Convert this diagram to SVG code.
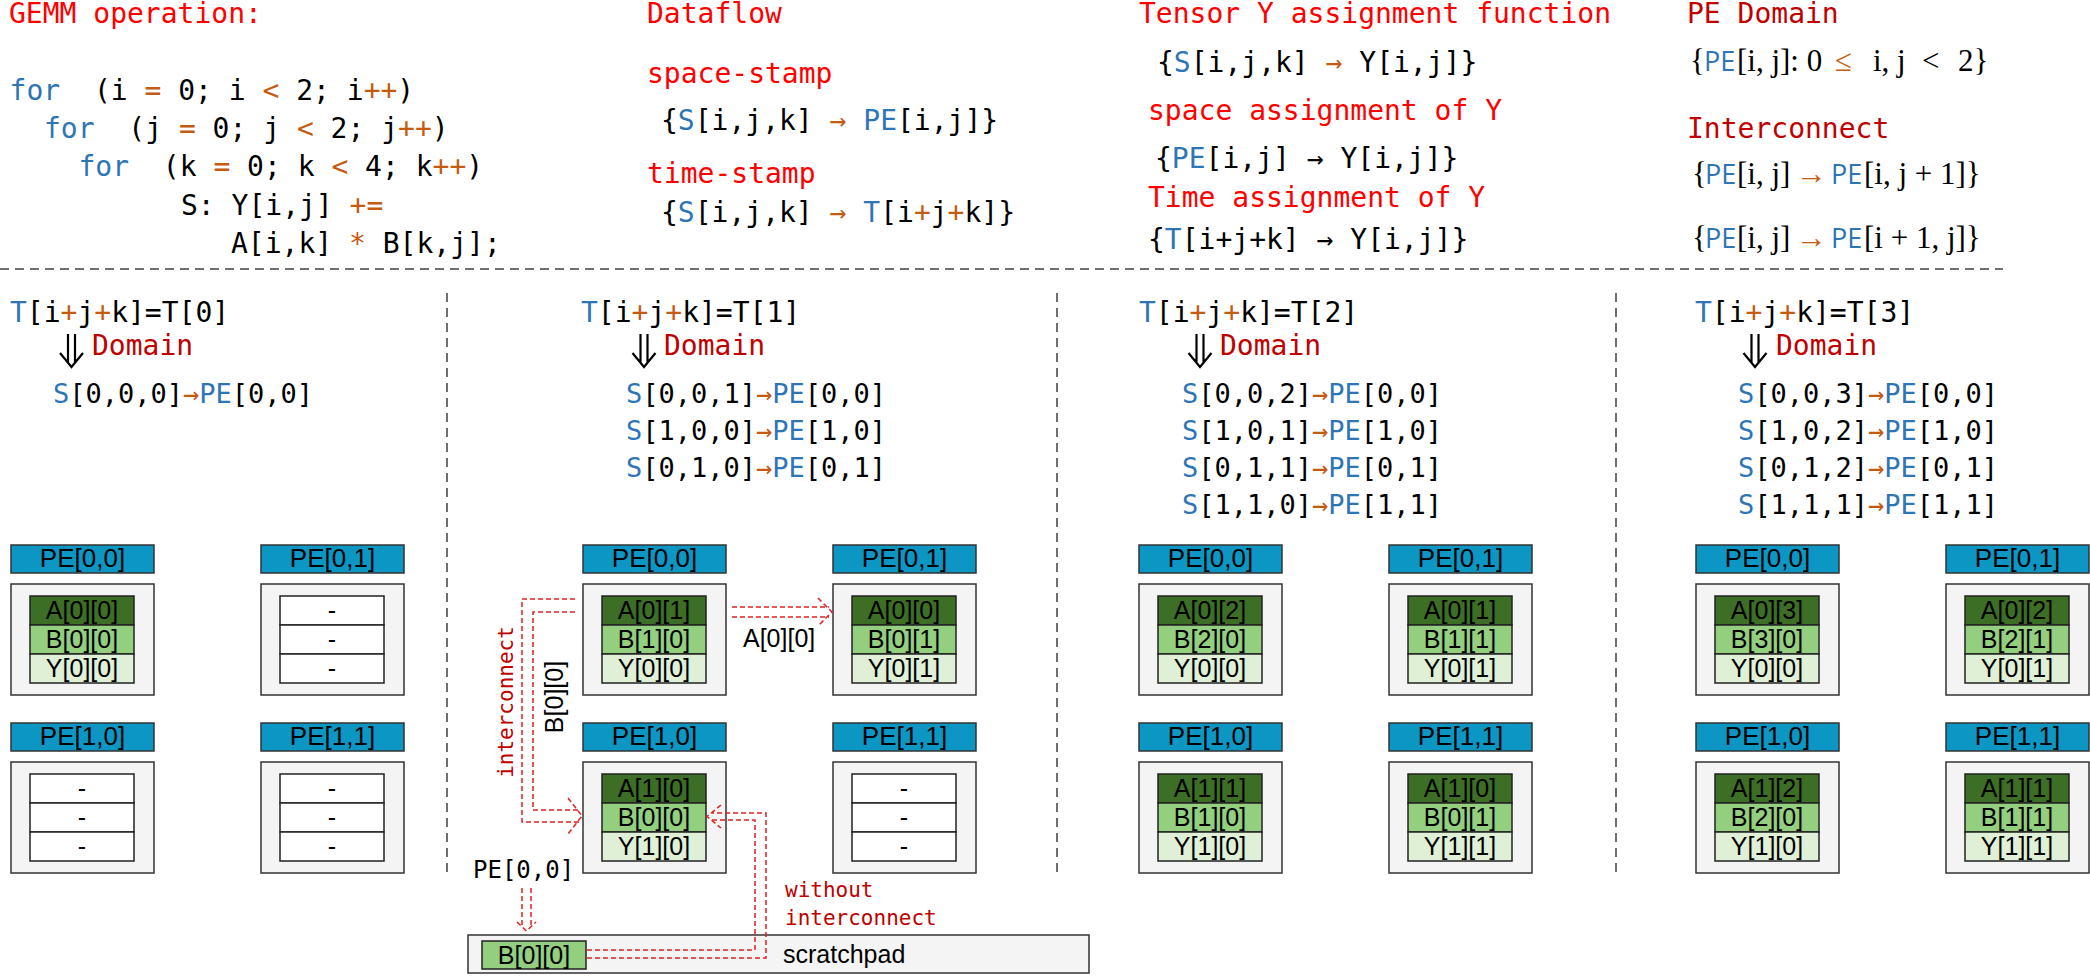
<svg xmlns="http://www.w3.org/2000/svg" width="2090" height="976" viewBox="0 0 2090 976">
<defs>
<style>
text { font-family: "DejaVu Sans Mono", monospace; fill: #000; }
.m { font-size: 28px; }
.s { font-size: 27px; }
.r { fill: #FF0000; }
.dr { fill: #C00000; }
.b { fill: #2E75B6; }
.o { fill: #C55A11; }
.math { font-family: "Liberation Serif", "DejaVu Serif", serif; font-size: 31px; }
.mpe { font-family: "Open Sans", "Liberation Sans", sans-serif; font-size: 27px; fill: #2E75B6; }
.sep { stroke: #404040; stroke-width: 1.5; stroke-dasharray: 9 6; fill: none; }
.hdr { fill: #0B96C4; stroke: #333; stroke-width: 1.5; }
.body { fill: #F4F4F4; stroke: #333; stroke-width: 1.5; }
.ra { fill: #3D6E25; stroke: #222; stroke-width: 1.5; }
.rb { fill: #93CF7E; stroke: #222; stroke-width: 1.5; }
.ry { fill: #DFF0D7; stroke: #222; stroke-width: 1.5; }
.re { fill: #FFFFFF; stroke: #222; stroke-width: 1.5; }
.lbl { font-family: "Liberation Sans", Arial, sans-serif; font-size: 26px; text-anchor: middle; }
.cell { font-family: "Liberation Sans", Arial, sans-serif; font-size: 25px; text-anchor: middle; }
.sans { font-family: "Liberation Sans", Arial, sans-serif; font-size: 25px; }
.dash { stroke: #E02020; stroke-width: 1.5; stroke-dasharray: 5 3; fill: none; }
.da { stroke: #000; stroke-width: 2.2; fill: none; }
.lab { font-size: 21px; }
</style>
<g id="dbl"><path class="da" d="M-3.5,0 V28 M3.5,0 V28 M-11.5,19 L0,33 L11.5,19"/></g>
<g id="frame"><rect class="hdr" x="0" y="0" width="143" height="28"/><rect class="body" x="0" y="39" width="143" height="111"/></g>
<g id="tfull"><rect class="ra" x="19" y="51" width="104" height="29"/><rect class="rb" x="19" y="80" width="104" height="29"/><rect class="ry" x="19" y="109" width="104" height="29"/></g>
<g id="tempty"><rect class="re" x="19" y="51" width="104" height="29"/><rect class="re" x="19" y="80" width="104" height="29"/><rect class="re" x="19" y="109" width="104" height="29"/><text class="cell" x="71" y="74">-</text><text class="cell" x="71" y="103">-</text><text class="cell" x="71" y="132">-</text></g>
</defs>
<rect x="0" y="0" width="2090" height="976" fill="#FFFFFF"/>

<!-- Top section -->
<g id="gemm">
<text class="m r" x="9" y="23">GEMM operation:</text>
<text class="m" x="9.6" y="100" xml:space="preserve"><tspan class="b">for</tspan>  (i <tspan class="o">=</tspan> 0; i <tspan class="o">&lt;</tspan> 2; i<tspan class="o">++</tspan>)</text>
<text class="m" x="44" y="138" xml:space="preserve"><tspan class="b">for</tspan>  (j <tspan class="o">=</tspan> 0; j <tspan class="o">&lt;</tspan> 2; j<tspan class="o">++</tspan>)</text>
<text class="m" x="78.5" y="176" xml:space="preserve"><tspan class="b">for</tspan>  (k <tspan class="o">=</tspan> 0; k <tspan class="o">&lt;</tspan> 4; k<tspan class="o">++</tspan>)</text>
<text class="m" x="181" y="215" xml:space="preserve">S: Y[i,j] <tspan class="o">+=</tspan></text>
<text class="m" x="231" y="253" xml:space="preserve">A[i,k] <tspan class="o">*</tspan> B[k,j];</text>
</g>
<g id="dataflow">
<text class="m r" x="647" y="23">Dataflow</text>
<text class="m r" x="647" y="83">space-stamp</text>
<text class="m" x="661" y="130" xml:space="preserve">{<tspan class="b">S</tspan>[i,j,k] <tspan class="o">→</tspan> <tspan class="b">PE</tspan>[i,j]}</text>
<text class="m r" x="647" y="183">time-stamp</text>
<text class="m" x="661" y="222" xml:space="preserve">{<tspan class="b">S</tspan>[i,j,k] <tspan class="o">→</tspan> <tspan class="b">T</tspan>[i<tspan class="o">+</tspan>j<tspan class="o">+</tspan>k]}</text>
</g>
<g id="tensor">
<text class="m r" x="1139" y="23">Tensor Y assignment function</text>
<text class="m" x="1157" y="72" xml:space="preserve">{<tspan class="b">S</tspan>[i,j,k] <tspan class="o">→</tspan> Y[i,j]}</text>
<text class="m r" x="1148" y="120">space assignment of Y</text>
<text class="m" x="1155" y="168" xml:space="preserve">{<tspan class="b">PE</tspan>[i,j] → Y[i,j]}</text>
<text class="m r" x="1148" y="207">Time assignment of Y</text>
<text class="m" x="1148" y="249" xml:space="preserve">{<tspan class="b">T</tspan>[i+j+k] → Y[i,j]}</text>
</g>
<g id="pedomain">
<text class="m dr" x="1687" y="23">PE Domain</text>
<text class="math" x="1690" y="71">{</text><text class="mpe" x="1704" y="71">PE</text><text class="math" x="1737" y="71" xml:space="preserve">[i, j]: 0</text><text class="math o" x="1835" y="71">≤</text><text class="math" x="1873" y="71">i, j</text><text class="math" x="1922" y="71">&lt;</text><text class="math" x="1958" y="71">2}</text>
<text class="m dr" x="1687" y="138">Interconnect</text>
<text class="math" x="1692" y="184">{</text><text class="mpe" x="1705" y="184">PE</text><text class="math" x="1737" y="184">[i, j]</text><text class="math o" x="1796" y="184">→</text><text class="mpe" x="1831" y="184">PE</text><text class="math" x="1864" y="184" xml:space="preserve">[i, j + 1]}</text>
<text class="math" x="1692" y="248">{</text><text class="mpe" x="1705" y="248">PE</text><text class="math" x="1737" y="248">[i, j]</text><text class="math o" x="1796" y="248">→</text><text class="mpe" x="1831" y="248">PE</text><text class="math" x="1864" y="248" xml:space="preserve">[i + 1, j]}</text>
</g>

<!-- separators -->
<g id="separators">
<path class="sep" d="M0,269 H2003"/>
<path class="sep" d="M447,293 V873"/>
<path class="sep" d="M1057,293 V873"/>
<path class="sep" d="M1616,293 V873"/>
</g>

<!-- Step headers -->
<g id="step0">
<text class="m" x="10" y="322"><tspan class="b">T</tspan>[i<tspan class="o">+</tspan>j<tspan class="o">+</tspan>k]=T[0]</text>
<use href="#dbl" x="71.5" y="334"/>
<text class="m dr" x="92" y="355">Domain</text>
<text class="s" x="53" y="403"><tspan class="b">S</tspan>[0,0,0]<tspan class="o">→</tspan><tspan class="b">PE</tspan>[0,0]</text>
</g>
<g id="step1">
<text class="m" x="581" y="322"><tspan class="b">T</tspan>[i<tspan class="o">+</tspan>j<tspan class="o">+</tspan>k]=T[1]</text>
<use href="#dbl" x="644" y="334"/>
<text class="m dr" x="664" y="355">Domain</text>
<text class="s" x="626" y="403"><tspan class="b">S</tspan>[0,0,1]<tspan class="o">→</tspan><tspan class="b">PE</tspan>[0,0]</text>
<text class="s" x="626" y="440"><tspan class="b">S</tspan>[1,0,0]<tspan class="o">→</tspan><tspan class="b">PE</tspan>[1,0]</text>
<text class="s" x="626" y="477"><tspan class="b">S</tspan>[0,1,0]<tspan class="o">→</tspan><tspan class="b">PE</tspan>[0,1]</text>
</g>
<g id="step2">
<text class="m" x="1139" y="322"><tspan class="b">T</tspan>[i<tspan class="o">+</tspan>j<tspan class="o">+</tspan>k]=T[2]</text>
<use href="#dbl" x="1200" y="334"/>
<text class="m dr" x="1220" y="355">Domain</text>
<text class="s" x="1182" y="403"><tspan class="b">S</tspan>[0,0,2]<tspan class="o">→</tspan><tspan class="b">PE</tspan>[0,0]</text>
<text class="s" x="1182" y="440"><tspan class="b">S</tspan>[1,0,1]<tspan class="o">→</tspan><tspan class="b">PE</tspan>[1,0]</text>
<text class="s" x="1182" y="477"><tspan class="b">S</tspan>[0,1,1]<tspan class="o">→</tspan><tspan class="b">PE</tspan>[0,1]</text>
<text class="s" x="1182" y="514"><tspan class="b">S</tspan>[1,1,0]<tspan class="o">→</tspan><tspan class="b">PE</tspan>[1,1]</text>
</g>
<g id="step3">
<text class="m" x="1695" y="322"><tspan class="b">T</tspan>[i<tspan class="o">+</tspan>j<tspan class="o">+</tspan>k]=T[3]</text>
<use href="#dbl" x="1755" y="334"/>
<text class="m dr" x="1776" y="355">Domain</text>
<text class="s" x="1738" y="403"><tspan class="b">S</tspan>[0,0,3]<tspan class="o">→</tspan><tspan class="b">PE</tspan>[0,0]</text>
<text class="s" x="1738" y="440"><tspan class="b">S</tspan>[1,0,2]<tspan class="o">→</tspan><tspan class="b">PE</tspan>[1,0]</text>
<text class="s" x="1738" y="477"><tspan class="b">S</tspan>[0,1,2]<tspan class="o">→</tspan><tspan class="b">PE</tspan>[0,1]</text>
<text class="s" x="1738" y="514"><tspan class="b">S</tspan>[1,1,1]<tspan class="o">→</tspan><tspan class="b">PE</tspan>[1,1]</text>
</g>

<!-- PE nodes: step 0 -->
<g id="t0-pe00" transform="translate(11,545)"><use href="#frame"/><text class="lbl" x="71.5" y="22">PE[0,0]</text><use href="#tfull"/><text class="cell" x="71" y="74">A[0][0]</text><text class="cell" x="71" y="103">B[0][0]</text><text class="cell" x="71" y="132">Y[0][0]</text></g>
<g id="t0-pe01" transform="translate(261,545)"><use href="#frame"/><text class="lbl" x="71.5" y="22">PE[0,1]</text><use href="#tempty"/></g>
<g id="t0-pe10" transform="translate(11,723)"><use href="#frame"/><text class="lbl" x="71.5" y="22">PE[1,0]</text><use href="#tempty"/></g>
<g id="t0-pe11" transform="translate(261,723)"><use href="#frame"/><text class="lbl" x="71.5" y="22">PE[1,1]</text><use href="#tempty"/></g>
<!-- step 1 -->
<g id="t1-pe00" transform="translate(583,545)"><use href="#frame"/><text class="lbl" x="71.5" y="22">PE[0,0]</text><use href="#tfull"/><text class="cell" x="71" y="74">A[0][1]</text><text class="cell" x="71" y="103">B[1][0]</text><text class="cell" x="71" y="132">Y[0][0]</text></g>
<g id="t1-pe01" transform="translate(833,545)"><use href="#frame"/><text class="lbl" x="71.5" y="22">PE[0,1]</text><use href="#tfull"/><text class="cell" x="71" y="74">A[0][0]</text><text class="cell" x="71" y="103">B[0][1]</text><text class="cell" x="71" y="132">Y[0][1]</text></g>
<g id="t1-pe10" transform="translate(583,723)"><use href="#frame"/><text class="lbl" x="71.5" y="22">PE[1,0]</text><use href="#tfull"/><text class="cell" x="71" y="74">A[1][0]</text><text class="cell" x="71" y="103">B[0][0]</text><text class="cell" x="71" y="132">Y[1][0]</text></g>
<g id="t1-pe11" transform="translate(833,723)"><use href="#frame"/><text class="lbl" x="71.5" y="22">PE[1,1]</text><use href="#tempty"/></g>
<!-- step 2 -->
<g id="t2-pe00" transform="translate(1139,545)"><use href="#frame"/><text class="lbl" x="71.5" y="22">PE[0,0]</text><use href="#tfull"/><text class="cell" x="71" y="74">A[0][2]</text><text class="cell" x="71" y="103">B[2][0]</text><text class="cell" x="71" y="132">Y[0][0]</text></g>
<g id="t2-pe01" transform="translate(1389,545)"><use href="#frame"/><text class="lbl" x="71.5" y="22">PE[0,1]</text><use href="#tfull"/><text class="cell" x="71" y="74">A[0][1]</text><text class="cell" x="71" y="103">B[1][1]</text><text class="cell" x="71" y="132">Y[0][1]</text></g>
<g id="t2-pe10" transform="translate(1139,723)"><use href="#frame"/><text class="lbl" x="71.5" y="22">PE[1,0]</text><use href="#tfull"/><text class="cell" x="71" y="74">A[1][1]</text><text class="cell" x="71" y="103">B[1][0]</text><text class="cell" x="71" y="132">Y[1][0]</text></g>
<g id="t2-pe11" transform="translate(1389,723)"><use href="#frame"/><text class="lbl" x="71.5" y="22">PE[1,1]</text><use href="#tfull"/><text class="cell" x="71" y="74">A[1][0]</text><text class="cell" x="71" y="103">B[0][1]</text><text class="cell" x="71" y="132">Y[1][1]</text></g>
<!-- step 3 -->
<g id="t3-pe00" transform="translate(1696,545)"><use href="#frame"/><text class="lbl" x="71.5" y="22">PE[0,0]</text><use href="#tfull"/><text class="cell" x="71" y="74">A[0][3]</text><text class="cell" x="71" y="103">B[3][0]</text><text class="cell" x="71" y="132">Y[0][0]</text></g>
<g id="t3-pe01" transform="translate(1946,545)"><use href="#frame"/><text class="lbl" x="71.5" y="22">PE[0,1]</text><use href="#tfull"/><text class="cell" x="71" y="74">A[0][2]</text><text class="cell" x="71" y="103">B[2][1]</text><text class="cell" x="71" y="132">Y[0][1]</text></g>
<g id="t3-pe10" transform="translate(1696,723)"><use href="#frame"/><text class="lbl" x="71.5" y="22">PE[1,0]</text><use href="#tfull"/><text class="cell" x="71" y="74">A[1][2]</text><text class="cell" x="71" y="103">B[2][0]</text><text class="cell" x="71" y="132">Y[1][0]</text></g>
<g id="t3-pe11" transform="translate(1946,723)"><use href="#frame"/><text class="lbl" x="71.5" y="22">PE[1,1]</text><use href="#tfull"/><text class="cell" x="71" y="74">A[1][1]</text><text class="cell" x="71" y="103">B[1][1]</text><text class="cell" x="71" y="132">Y[1][1]</text></g>

<!-- scratchpad -->
<g id="scratchpad">
<rect class="body" x="468" y="935" width="621" height="38"/>
<rect class="rb" x="482" y="941" width="104" height="28"/>
<text class="cell" x="534" y="964">B[0][0]</text>
<text class="sans" x="783" y="963">scratchpad</text>
</g>
<g id="pe00-label"><text x="473" y="878" style="font-size:24px">PE[0,0]</text></g>

<!-- connectors -->
<g id="connectors">
<path class="dash" d="M575,599 H522 V822 H580"/>
<path class="dash" d="M575,612 H533 V810 H580"/>
<path class="dash" d="M568,798 L582,816 L568,834"/>
<path class="dash" d="M732,607 H829"/>
<path class="dash" d="M732,617 H829"/>
<path class="dash" d="M818,598 L832,612 L818,626"/>
<path class="dash" d="M522,888 V928"/>
<path class="dash" d="M531,888 V928"/>
<path class="dash" d="M517,922 L526.5,931 L536,922"/>
<path class="dash" d="M587,950 H755 V820 H712"/>
<path class="dash" d="M587,958 H766 V813 H712"/>
<path class="dash" d="M721,805 L707,816.5 L721,828"/>
<text class="lab dr" transform="translate(513,702) rotate(-90)" text-anchor="middle">interconnect</text>
<text class="cell" transform="translate(563,697) rotate(-90)">B[0][0]</text>
<text class="sans" x="743" y="647">A[0][0]</text>
<text class="lab dr" x="785" y="897">without</text>
<text class="lab dr" x="785" y="925">interconnect</text>
</g>
</svg>
